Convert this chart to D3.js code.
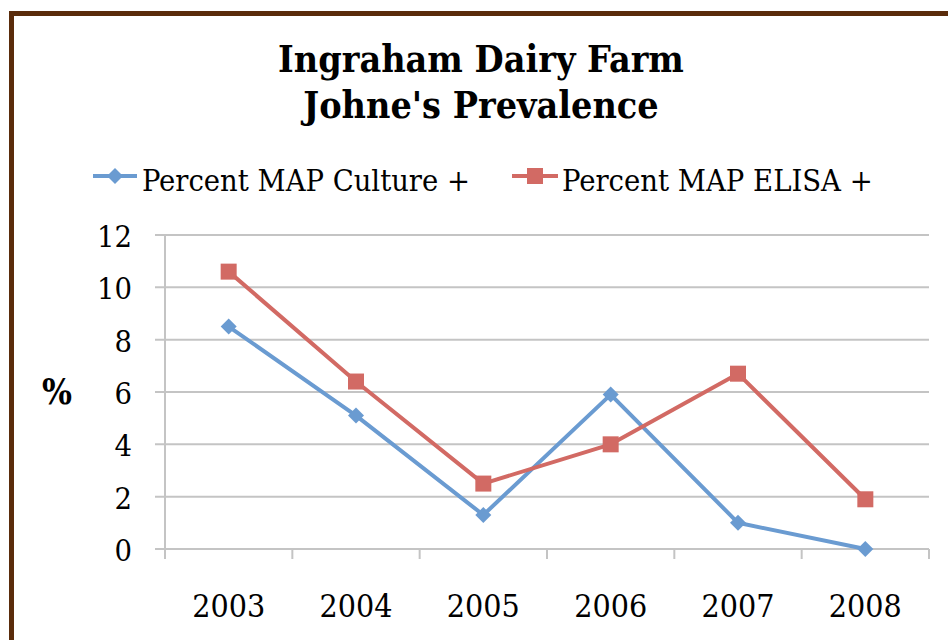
<!DOCTYPE html>
<html>
<head>
<meta charset="utf-8">
<script src="https://cdn.jsdelivr.net/npm/d3@7"></script>
<style>
  html, body { margin: 0; padding: 0; background: #fff; }
  svg { display: block; }
  text { font-family: "DejaVu Serif Condensed", "DejaVu Serif", "Liberation Serif", serif; font-stretch: condensed; fill: #000; }
</style>
</head>
<body>
<svg id="chart" width="948" height="640"></svg>
<script>
const titleLines = ["Ingraham Dairy Farm", "Johne's Prevalence"];
const years = ["2003", "2004", "2005", "2006", "2007", "2008"];
const cultureValues = [8.5, 5.1, 1.3, 5.9, 1.0, 0.0];
const elisaValues = [10.6, 6.4, 2.5, 4.0, 6.7, 1.9];
const seriesNames = ["Percent MAP Culture +", "Percent MAP ELISA +"];
const yTicks = [0, 2, 4, 6, 8, 10, 12];
const yLabel = "%";

const series = [
  { name: seriesNames[0], values: cultureValues, color: "#6A9BD1", marker: "diamond" },
  { name: seriesNames[1], values: elisaValues, color: "#D26A64", marker: "square" }
];

const svg = d3.select("#chart");

// frame
svg.append("rect")
  .attr("x", 11.5).attr("y", 13.5)
  .attr("width", 1100).attr("height", 1100)
  .attr("fill", "none").attr("stroke", "#5A2C0B").attr("stroke-width", 5);

const plot = { left: 165, right: 929, top: 235, bottom: 549 };

const x = d3.scaleBand().domain(years).range([plot.left, plot.right]).padding(0);
const y = d3.scaleLinear().domain([0, 12]).range([plot.bottom, plot.top]);

function fit(sel, targetWidth) {
  const node = sel.node();
  const fs = parseFloat(sel.attr("font-size"));
  const w = node.getComputedTextLength();
  const nfs = fs * targetWidth / w;
  sel.attr("font-size", nfs);
  return nfs;
}

// gridlines
svg.append("g").selectAll("line").data(yTicks).join("line")
  .attr("x1", plot.left - 10).attr("x2", plot.right)
  .attr("y1", d => y(d)).attr("y2", d => y(d))
  .attr("stroke", "#C4C4C4").attr("stroke-width", 2);

// y axis line
svg.append("line")
  .attr("x1", plot.left).attr("x2", plot.left)
  .attr("y1", plot.top).attr("y2", plot.bottom + 10)
  .attr("stroke", "#C4C4C4").attr("stroke-width", 2);

// x category boundary ticks
const boundaries = years.map(d => x(d)).concat([x(years[years.length - 1]) + x.bandwidth()]);
svg.append("g").selectAll("line").data(boundaries).join("line")
  .attr("x1", d => d).attr("x2", d => d)
  .attr("y1", plot.bottom).attr("y2", plot.bottom + 10)
  .attr("stroke", "#C4C4C4").attr("stroke-width", 2);

// y tick labels
const yt = svg.append("g").selectAll("text").data(yTicks).join("text")
  .attr("x", 132).attr("y", d => y(d) + 12)
  .attr("text-anchor", "end")
  .attr("font-size", 32)
  .text(d => d);
const ytfs = fit(yt.filter(d => d === 12), 35);
yt.attr("font-size", ytfs);

// x labels
svg.append("g").selectAll("text").data(years).join("text")
  .attr("x", d => x(d) + x.bandwidth() / 2).attr("y", 617)
  .attr("text-anchor", "middle")
  .attr("font-size", 32)
  .text(d => d)
  .each(function() { fit(d3.select(this), 73); });

// y label
const yl = svg.append("text")
  .attr("x", 57).attr("y", 404)
  .attr("text-anchor", "middle")
  .attr("font-size", 30).attr("font-weight", "bold")
  .text(yLabel);
fit(yl, 30);

// title
let titleSize = 36;
titleLines.forEach((t, i) => {
  const el = svg.append("text")
    .attr("x", 481).attr("y", 72 + i * 46)
    .attr("text-anchor", "middle")
    .attr("font-size", titleSize).attr("font-weight", "bold")
    .text(t);
  if (i === 0) titleSize = fit(el, 406);
  else el.attr("font-size", titleSize);
});

const cx = d => x(d) + x.bandwidth() / 2;

function drawMarker(g, type, px, py, color) {
  if (type === "diamond") {
    g.append("path")
      .attr("d", `M${px},${py - 8} L${px + 8},${py} L${px},${py + 8} L${px - 8},${py} Z`)
      .attr("fill", color);
  } else {
    g.append("rect")
      .attr("x", px - 8).attr("y", py - 8)
      .attr("width", 16).attr("height", 16)
      .attr("fill", color);
  }
}

const line = d3.line().x((d, i) => cx(years[i])).y(d => y(d));

series.forEach(s => {
  const g = svg.append("g");
  g.append("path").datum(s.values)
    .attr("d", line)
    .attr("fill", "none")
    .attr("stroke", s.color).attr("stroke-width", 4)
    .attr("stroke-linejoin", "round");
  s.values.forEach((v, i) => drawMarker(g, s.marker, cx(years[i]), y(v), s.color));
});

// legend
const legendItems = [
  { lx1: 93, lx2: 137, tx: 142, tw: 328 },
  { lx1: 512, lx2: 558, tx: 562, tw: 311 }
];
series.forEach((s, i) => {
  const L = legendItems[i];
  const g = svg.append("g");
  g.append("line")
    .attr("x1", L.lx1).attr("x2", L.lx2).attr("y1", 176).attr("y2", 176)
    .attr("stroke", s.color).attr("stroke-width", 4);
  drawMarker(g, s.marker, (L.lx1 + L.lx2) / 2, 176, s.color);
  const t = g.append("text")
    .attr("x", L.tx).attr("y", 191)
    .attr("font-size", 30)
    .text(s.name);
  fit(t, L.tw);
});
</script>
</body>
</html>
